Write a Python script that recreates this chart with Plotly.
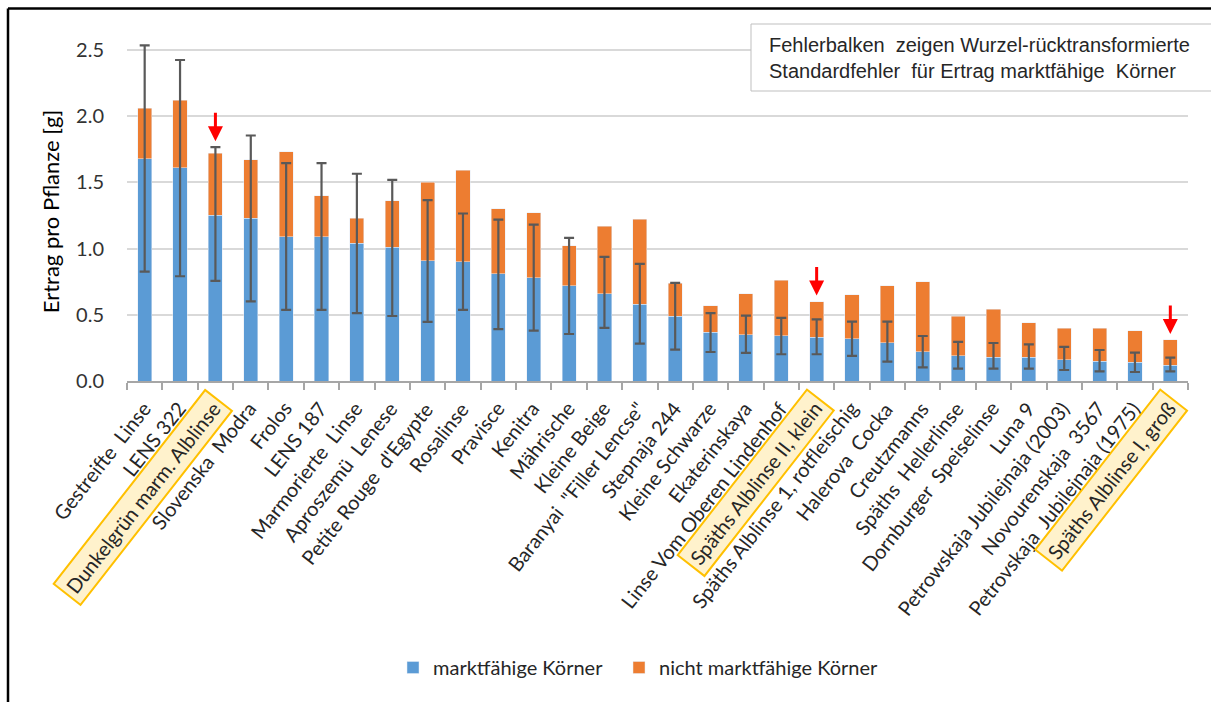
import math
import plotly.graph_objects as go

# Sorten (Reihenfolge wie im Original)
sorten = [
    "Gestreifte  Linse", "LENS 322", "Dunkelgrün marm. Alblinse", "Slovenska  Modra",
    "Frolos", "LENS 187", "Marmorierte  Linse", "Aproszemü  Lenese",
    "Petite Rouge  d'Egypte", "Rosalinse", "Pravisce", "Kenitra", "Mährische",
    "Kleine Beige", "Baranyai  \"Filler Lencse\"", "Stepnaja 244", "Kleine Schwarze",
    "Ekaterinskaya", "Linse Vom Oberen Lindenhof", "Späths Alblinse II, klein",
    "Späths Alblinse 1, rotfleischig", "Halerova  Cocka", "Creutzmanns",
    "Späths  Hellerlinse", "Dornburger  Speiselinse", "Luna 9",
    "Petrowskaja Jubilejnaja (2003)", "Novourenskaja  3567",
    "Petrovskaja  Jubilejnaja (1975)", "Späths Alblinse I, groß",
]
marktfaehig = [1.68, 1.61, 1.25, 1.23, 1.09, 1.09, 1.04, 1.01, 0.91, 0.90,
               0.81, 0.78, 0.72, 0.66, 0.58, 0.49, 0.37, 0.35, 0.34, 0.33,
               0.32, 0.29, 0.22, 0.19, 0.18, 0.18, 0.16, 0.15, 0.14, 0.12]
nicht_marktfaehig = [0.38, 0.51, 0.47, 0.44, 0.64, 0.31, 0.19, 0.35, 0.59, 0.69,
                     0.49, 0.49, 0.30, 0.51, 0.64, 0.25, 0.20, 0.31, 0.42, 0.27,
                     0.33, 0.43, 0.53, 0.30, 0.36, 0.26, 0.24, 0.25, 0.24, 0.19]
# Grenzen der Fehlerbalken (rücktransformiert)
se_oben = [2.535, 2.424, 1.766, 1.854, 1.645, 1.645, 1.565, 1.519, 1.366, 1.265,
           1.219, 1.181, 1.081, 0.937, 0.884, 0.741, 0.512, 0.494, 0.476, 0.466,
           0.448, 0.448, 0.340, 0.295, 0.287, 0.277, 0.257, 0.234, 0.214, 0.176]
se_unten = [0.826, 0.791, 0.756, 0.602, 0.537, 0.537, 0.512, 0.491, 0.446, 0.537,
            0.391, 0.380, 0.355, 0.401, 0.282, 0.237, 0.219, 0.212, 0.202, 0.202,
            0.189, 0.146, 0.103, 0.093, 0.093, 0.093, 0.083, 0.073, 0.068, 0.073]
markiert = ["Dunkelgrün marm. Alblinse", "Späths Alblinse II, klein", "Späths Alblinse I, groß"]
y_ticks = [0.0, 0.5, 1.0, 1.5, 2.0, 2.5]

W, H = 1211, 702
ML, MR, MT, MB = 127, 23, 42, 321
PW, PH = W - ML - MR, H - MT - MB


def px_x(p):
    return (p - ML) / PW


def px_y(p):
    return (H - MB - p) / PH


BLAU = "#5b9bd5"
ORANGE = "#ed7d31"
FONT = "Lato"
TXT = "#262626"

fig = go.Figure()
fig.add_trace(go.Bar(x=sorten, y=marktfaehig, name="marktfähige Körner",
                     marker_color=BLAU, legend="legend"))
fig.add_trace(go.Bar(x=sorten, y=nicht_marktfaehig, name="nicht marktfähige Körner",
                     marker_color=ORANGE, legend="legend2"))
fig.add_trace(go.Scatter(
    x=sorten, y=marktfaehig, mode="markers", marker=dict(size=1, opacity=0),
    error_y=dict(type="data", symmetric=False,
                 array=[o - m for o, m in zip(se_oben, marktfaehig)],
                 arrayminus=[m - u for m, u in zip(marktfaehig, se_unten)],
                 color="#595959", thickness=2.2, width=5),
    showlegend=False, hoverinfo="skip",
))

# schräge Achsenbeschriftung, markierte Sorten mit gelbem Kasten
ang = 52
c, s = math.cos(math.radians(ang)), math.sin(math.radians(ang))
for name in sorten:
    hl = name in markiert
    bw, bp = (2, 4) if hl else (0, 0)
    extra = (bw + bp) * (c + s)
    fig.add_annotation(
        x=name, y=0, xref="x", yref="y", text=name.replace("  ", " \u00a0"),
        textangle=-ang, xanchor="right", yanchor="top", showarrow=False,
        xshift=10 + extra, yshift=-16 + extra,
        font=dict(family=FONT, size=20, color=TXT),
        bgcolor="#fff2cc" if hl else "rgba(0,0,0,0)",
        bordercolor="#ffc000" if hl else "rgba(0,0,0,0)",
        borderwidth=bw, borderpad=bp,
    )

# rote Pfeile
for name in markiert:
    i = sorten.index(name)
    spitze = max(marktfaehig[i] + nicht_marktfaehig[i], se_oben[i])
    fig.add_annotation(x=name, y=spitze, xref="x", yref="y", ax=0, ay=-36, text="",
                       showarrow=True, arrowhead=2, arrowsize=1, arrowwidth=3,
                       arrowcolor="#ff0000", standoff=6)

# Hinweis-Kasten
fig.add_shape(type="rect", xref="paper", yref="paper",
              x0=px_x(751), x1=px_x(1225), y0=px_y(24), y1=px_y(91),
              line=dict(color="#bfbfbf", width=1), fillcolor="white")
fig.add_annotation(
    xref="paper", yref="paper", x=px_x(767), y=px_y(58), xanchor="left", yanchor="middle",
    align="left", showarrow=False,
    text="Fehlerbalken \u00a0zeigen Wurzel-rücktransformierte<br>Standardfehler \u00a0für Ertrag marktfähige \u00a0Körner",
    font=dict(family="Liberation Sans", size=20, color=TXT),
)

# äußerer Rahmen
fig.add_shape(type="line", xref="paper", yref="paper", x0=px_x(8), x1=px_x(1230),
              y0=px_y(8.5), y1=px_y(8.5), line=dict(color="black", width=2.5))
fig.add_shape(type="line", xref="paper", yref="paper", x0=px_x(8), x1=px_x(8),
              y0=px_y(8.5), y1=px_y(720), line=dict(color="black", width=2.5))

leg = dict(orientation="h", y=px_y(648), xanchor="left", yanchor="top",
           font=dict(family=FONT, size=20, color=TXT))
fig.update_layout(
    width=W, height=H, barmode="stack", bargap=0.6,
    margin=dict(l=ML, r=MR, t=MT, b=MB),
    paper_bgcolor="white", plot_bgcolor="white",
    font=dict(family=FONT, size=20, color=TXT),
    legend=dict(leg, x=px_x(393)),
    legend2=dict(leg, x=px_x(619)),
)
fig.update_xaxes(range=[-0.5, len(sorten) - 0.5], autorange=False,
                 showticklabels=False, showline=True, linecolor="#a6a6a6", linewidth=2,
                 ticks="outside", tickson="boundaries", ticklen=7, tickwidth=2,
                 tickcolor="#a6a6a6", showgrid=False, zeroline=False)
fig.update_yaxes(range=[0, 2.56], tickvals=y_ticks, tickformat=".1f",
                 gridcolor="#d9d9d9", gridwidth=1.5, zeroline=False, showline=False,
                 ticklabelstandoff=22, tickfont=dict(size=20, color="#333333"),
                 title=dict(text="Ertrag pro Pflanze [g]", standoff=10,
                            font=dict(family=FONT, size=22, color="black")))

fig.write_html("out.html", config={"displayModeBar": False},
               post_script="document.body.style.margin='0';")
